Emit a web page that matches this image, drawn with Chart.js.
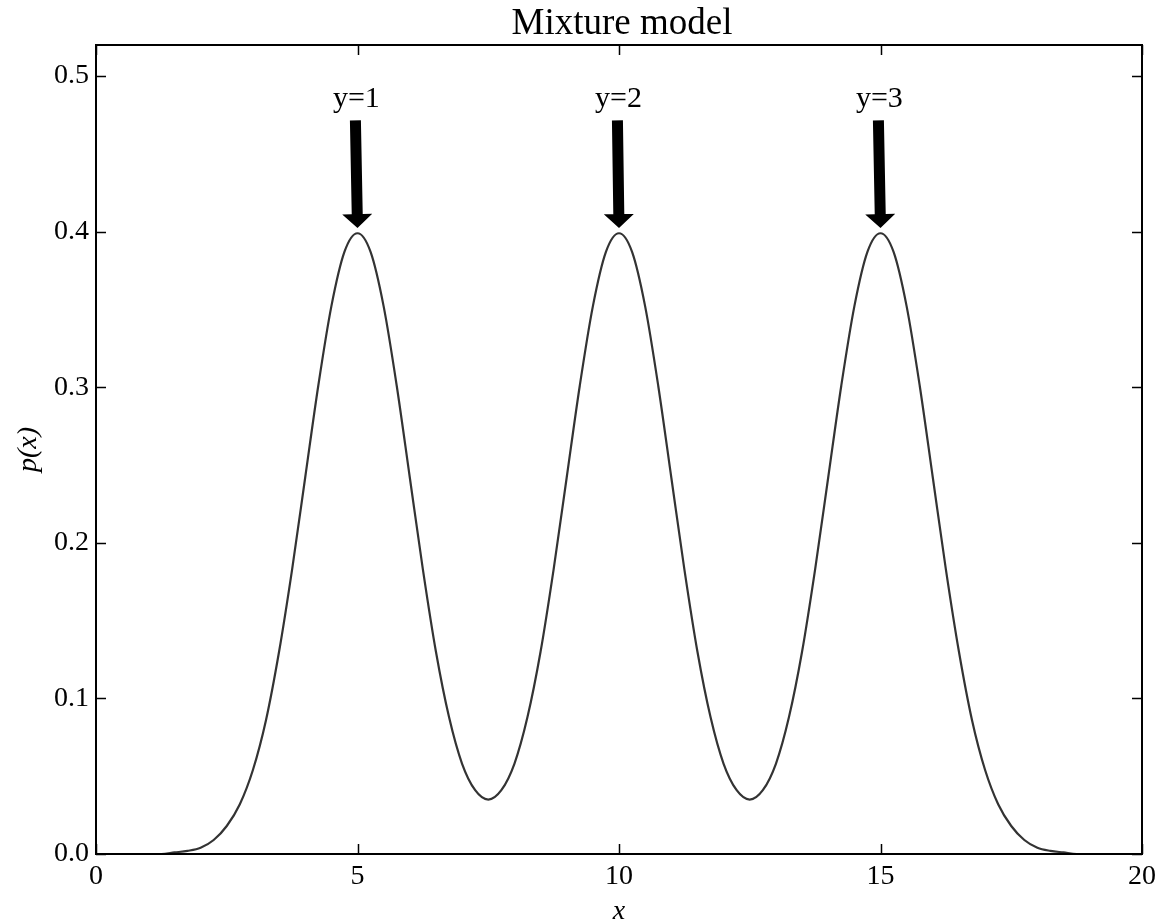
<!DOCTYPE html>
<html>
<head>
<meta charset="utf-8">
<script src="https://cdn.jsdelivr.net/npm/chart.js@4"></script>
<style>
  html, body { margin: 0; padding: 0; background: #ffffff; }
  #wrap { width: 1158px; height: 921px; }
</style>
</head>
<body>
<div id="wrap"><canvas id="c" width="1158" height="921"></canvas></div>
<script>
// ---- data ----
const chartTitle = 'Mixture model';
const xLabel = 'x';
const yLabel = 'p(x)';
const xValues = [
  0, 0.25, 0.5, 0.75, 1, 1.25, 1.5, 1.75, 2, 2.25, 2.5, 2.75, 3, 3.25, 3.5, 3.75,
  4, 4.25, 4.5, 4.75, 5, 5.25, 5.5, 5.75, 6, 6.25, 6.5, 6.75, 7, 7.25, 7.5, 7.75,
  8, 8.25, 8.5, 8.75, 9, 9.25, 9.5, 9.75, 10, 10.25, 10.5, 10.75, 11, 11.25, 11.5, 11.75,
  12, 12.25, 12.5, 12.75, 13, 13.25, 13.5, 13.75, 14, 14.25, 14.5, 14.75, 15, 15.25, 15.5, 15.75,
  16, 16.25, 16.5, 16.75, 17, 17.25, 17.5, 17.75, 18, 18.25, 18.5, 18.75, 19, 19.25, 19.5, 19.75, 20
];
const pValues = [
  0.000, 0.000, 0.000, 0.000, 0.000, 0.000, 0.001, 0.002, 0.004, 0.009, 0.018, 0.032, 0.054, 0.086, 0.130, 0.183,
  0.242, 0.301, 0.352, 0.387, 0.399, 0.387, 0.352, 0.301, 0.242, 0.183, 0.130, 0.088, 0.058, 0.041, 0.035, 0.041,
  0.058, 0.088, 0.130, 0.183, 0.242, 0.301, 0.352, 0.387, 0.399, 0.387, 0.352, 0.301, 0.242, 0.183, 0.130, 0.088,
  0.058, 0.041, 0.035, 0.041, 0.058, 0.088, 0.130, 0.183, 0.242, 0.301, 0.352, 0.387, 0.399, 0.387, 0.352, 0.301,
  0.242, 0.183, 0.130, 0.086, 0.054, 0.032, 0.018, 0.009, 0.004, 0.002, 0.001, 0.000, 0.000, 0.000, 0.000, 0.000, 0.000
];
const xTicks = [0, 5, 10, 15, 20];
const yTicks = [0.0, 0.1, 0.2, 0.3, 0.4, 0.5];
const xRange = [0, 20];
const yRange = [0, 0.52];
// annotations: arrow tip at (annX, annTipY), text/tail at (annTextX, annTextY)
const annLabels = ['y=1', 'y=2', 'y=3'];
const annX = [5, 10, 15];
const annTextX = [4.96, 9.97, 14.96];
const annTipY = 0.4023;
const annTailY = 0.4716;
const annTextY = 0.48;

const SERIF = '"Liberation Serif", "DejaVu Serif", serif';

const framePlugin = {
  id: 'framePlugin',
  afterDatasetsDraw(chart) {
    const ctx = chart.ctx;
    const a = chart.chartArea;
    const xs = chart.scales.x, ys = chart.scales.y;
    ctx.save();
    // arrows + labels
    for (let i = 0; i < annLabels.length; i++) {
      const tipX = xs.getPixelForValue(annX[i]);
      const tipY = ys.getPixelForValue(annTipY);
      const tailX = xs.getPixelForValue(annTextX[i]);
      const tailY = ys.getPixelForValue(annTailY);
      const dx = tipX - tailX, dy = tipY - tailY;
      const len = Math.hypot(dx, dy);
      const ux = dx / len, uy = dy / len;
      const px = -uy, py = ux;
      const headLen = 14, headHalf = 15, shaftHalf = 5.5;
      const bx = tipX - ux * headLen, by = tipY - uy * headLen;
      ctx.fillStyle = '#000000';
      ctx.beginPath();
      ctx.moveTo(tailX + px * shaftHalf, tailY + py * shaftHalf);
      ctx.lineTo(bx + px * shaftHalf, by + py * shaftHalf);
      ctx.lineTo(bx + px * headHalf, by + py * headHalf);
      ctx.lineTo(tipX, tipY);
      ctx.lineTo(bx - px * headHalf, by - py * headHalf);
      ctx.lineTo(bx - px * shaftHalf, by - py * shaftHalf);
      ctx.lineTo(tailX - px * shaftHalf, tailY - py * shaftHalf);
      ctx.closePath();
      ctx.fill();
      ctx.font = '30px ' + SERIF;
      ctx.textAlign = 'center';
      ctx.textBaseline = 'alphabetic';
      ctx.fillText(annLabels[i], tailX + 1, ys.getPixelForValue(annTextY));
    }
    // frame
    ctx.strokeStyle = '#000000';
    ctx.lineWidth = 2;
    ctx.strokeRect(a.left, a.top, a.right - a.left, a.bottom - a.top);
    // inward ticks on all sides
    ctx.lineWidth = 1.5;
    const tl = 10;
    ctx.beginPath();
    xs.ticks.forEach(t => {
      const x = Math.round(xs.getPixelForValue(t.value)) + 0.5;
      ctx.moveTo(x, a.bottom); ctx.lineTo(x, a.bottom - tl);
      ctx.moveTo(x, a.top); ctx.lineTo(x, a.top + tl);
    });
    ys.ticks.forEach(t => {
      const y = Math.round(ys.getPixelForValue(t.value)) + 0.5;
      ctx.moveTo(a.left, y); ctx.lineTo(a.left + tl, y);
      ctx.moveTo(a.right, y); ctx.lineTo(a.right - tl, y);
    });
    ctx.stroke();
    // title
    ctx.fillStyle = '#000000';
    ctx.font = '37px ' + SERIF;
    ctx.textAlign = 'center';
    ctx.textBaseline = 'alphabetic';
    ctx.fillText(chartTitle, (a.left + a.right) / 2 + 3, 34);
    // axis labels
    ctx.font = 'italic 28px ' + SERIF;
    ctx.textBaseline = 'alphabetic';
    ctx.fillText(xLabel, (a.left + a.right) / 2, 919);
    ctx.save();
    ctx.translate(36, (a.top + a.bottom) / 2);
    ctx.rotate(-Math.PI / 2);
    ctx.fillText(yLabel, 0, 0);
    ctx.restore();
    ctx.restore();
  }
};

new Chart(document.getElementById('c'), {
  type: 'line',
  data: {
    datasets: [{
      data: xValues.map((x, i) => ({ x: x, y: pValues[i] })),
      borderColor: '#333333',
      borderWidth: 2.2,
      pointRadius: 0,
      fill: false,
      cubicInterpolationMode: 'monotone'
    }]
  },
  options: {
    responsive: false,
    animation: false,
    events: [],
    layout: { padding: { left: 0, right: 16, top: 45, bottom: 0 } },
    plugins: { legend: { display: false }, tooltip: { enabled: false }, title: { display: false } },
    scales: {
      x: {
        type: 'linear',
        min: xRange[0], max: xRange[1],
        afterBuildTicks: s => { s.ticks = xTicks.map(v => ({ value: v })); },
        afterFit: s => { s.height = 67; s.paddingLeft = 0; s.paddingRight = 0; },
        grid: { display: false, drawTicks: false },
        border: { display: false },
        ticks: {
          color: '#000000', padding: 6, maxRotation: 0, autoSkip: false,
          font: { family: SERIF, size: 28 },
          callback: v => String(v)
        }
      },
      y: {
        type: 'linear',
        min: yRange[0], max: yRange[1],
        afterBuildTicks: s => { s.ticks = yTicks.map(v => ({ value: v })); },
        afterFit: s => { s.width = 96; s.paddingTop = 0; s.paddingBottom = 0; },
        grid: { display: false, drawTicks: false },
        border: { display: false },
        ticks: {
          color: '#000000', padding: 7, autoSkip: false,
          font: { family: SERIF, size: 28 },
          callback: v => Number(v).toFixed(1)
        }
      }
    }
  },
  plugins: [framePlugin]
});
</script>
</body>
</html>
